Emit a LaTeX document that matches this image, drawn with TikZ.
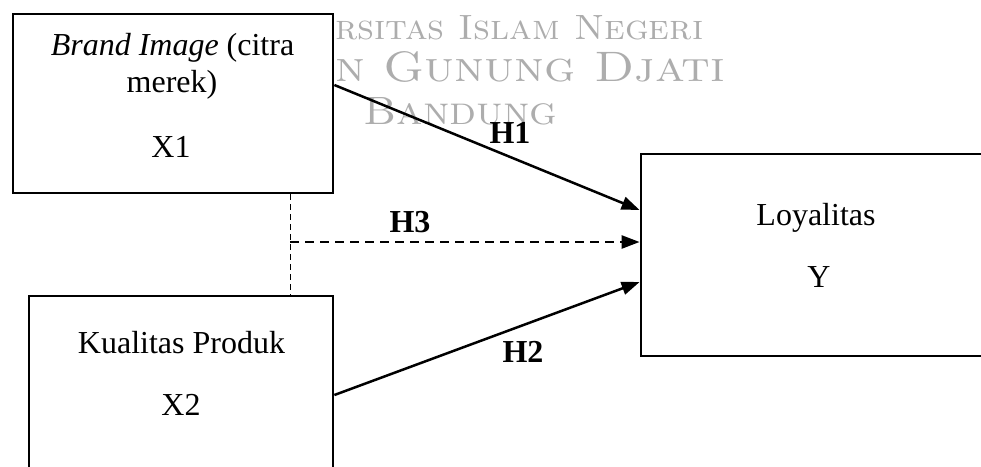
\documentclass[tikz,border=0pt]{standalone}
\usepackage{fontspec}
\usepackage{graphicx}
\newfontfamily\tnr{Liberation Serif}
\usetikzlibrary{arrows.meta}
\begin{document}
\begin{tikzpicture}[x=1pt,y=-1pt,
  box/.style={draw, line width=2.8pt, fill=white, inner sep=0pt},
  txt/.style={font=\tnr\fontsize{32}{38}\selectfont, anchor=base, inner sep=0pt},
  hlab/.style={font=\tnr\bfseries\fontsize{32}{38}\selectfont, anchor=base, inner sep=0pt},
  wm/.style={text=black!32, anchor=base west, inner sep=0pt},
  arr/.style={line width=2.5pt, -{Triangle[length=18pt,width=13pt]}},
  darr/.style={line width=2.5pt, dash pattern=on 9pt off 6pt, -{Triangle[length=18pt,width=13pt]}},
  dotln/.style={line width=1pt, dash pattern=on 6pt off 4pt}]
\clip (0,0) rectangle (981,466);
\fill[white] (0,0) rectangle (981,466);
% watermark
\node[wm] (wm1) at (335,39) {\resizebox{368pt}{24pt}{\scshape rsitas Islam Negeri}};
\node[wm] (wm2) at (335,81) {\resizebox{390pt}{30pt}{\scshape n Gunung Djati}};
\node[wm] (wm3) at (363,124) {\resizebox{194pt}{27pt}{\scshape Bandung}};
% boxes
\node[box, minimum width=320pt, minimum height=179pt] (X1) at (173,103.5) {};
\node[box, minimum width=304pt, minimum height=224pt] (X2) at (181,408) {};
\node[box, minimum width=369pt, minimum height=202pt] (Y) at (825.5,255) {};
% texts
\node[txt] (t1) at (172.5,55) {{\itshape Brand Image} (citra};
\node[txt] (t2) at (172,92) {merek)};
\node[txt] (t3) at (171,157) {X1};
\node[txt] (t4) at (181.5,353) {Kualitas Produk};
\node[txt] (t5) at (181,415) {X2};
\node[txt] (t6) at (816,225) {Loyalitas};
\node[txt] (t7) at (819,287) {Y};
% helper coordinates
\coordinate (a1) at (0,85);
\coordinate (b1) at (0,210);
\coordinate (a2) at (0,395);
\coordinate (b2) at (0,282);
\coordinate (J) at (290,242);
% connectors
\draw[dotln] (X1.south -| J) -- (X2.north -| J);
\draw[arr] (X1.east |- a1) -- (Y.west |- b1);
\draw[arr] (X2.east |- a2) -- (Y.west |- b2);
\draw[darr] (J) -- (Y.west |- J);
% labels
\node[hlab] (h1) at (510,143) {H1};
\node[hlab] (h3) at (410,232) {H3};
\node[hlab] (h2) at (523,362) {H2};
\end{tikzpicture}
\end{document}
